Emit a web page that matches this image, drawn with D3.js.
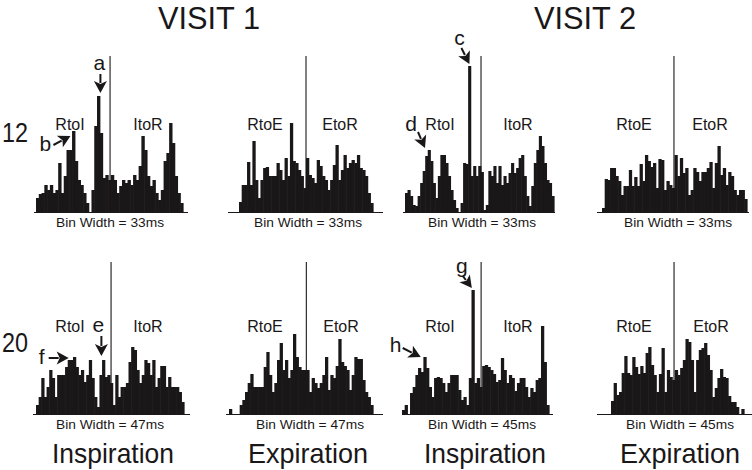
<!DOCTYPE html>
<html>
<head>
<meta charset="utf-8">
<script src="https://cdn.jsdelivr.net/npm/d3@7"></script>
<style>
    body { margin: 0; background: #fff; }
    svg { display: block; font-family: "Liberation Sans", Arial, sans-serif; }
</style>
</head>
<body>
<div id="chart"></div>
<script>
// spike counts per bin (left to right)
const v1Insp33 = [14, 18, 19, 27, 22, 27, 19, 22, 49, 19, 36, 62, 62, 81, 51, 32, 27, 19, 9, 0,
    22, 86, 116, 79, 34, 37, 32, 37, 32, 19, 26, 32, 29, 32, 27, 37, 32, 46, 76, 62,
    36, 26, 32, 19, 12, 22, 51, 59, 89, 69, 36, 19, 9];
const v1Exp33 = [10, 27, 27, 50, 27, 71, 32, 14, 32, 44, 45, 36, 36, 36, 49, 42, 32, 54, 36, 89,
    51, 49, 42, 36, 24, 54, 37, 34, 29, 52, 46, 36, 32, 22, 32, 47, 67, 32, 42, 57,
    44, 49, 52, 49, 57, 44, 42, 36, 19, 9];
const v2Insp33 = [19, 22, 16, 7, 6, 16, 29, 41, 56, 62, 51, 29, 14, 36, 57, 57, 49, 36, 22, 12,
    4, 0, 9, 49, 48, 146, 36, 46, 36, 46, 40, 2, 7, 41, 36, 46, 29, 46, 27, 36,
    29, 39, 49, 39, 44, 54, 57, 36, 16, 6, 26, 49, 62, 76, 66, 49, 32, 29, 16];
const v2Exp33 = [4, 33, 32, 44, 44, 36, 31, 17, 26, 26, 42, 26, 35, 26, 48, 31, 57, 51, 45, 49,
    24, 53, 52, 22, 31, 27, 24, 57, 36, 54, 39, 44, 17, 22, 44, 40, 31, 40, 40, 44,
    50, 24, 49, 66, 37, 44, 27, 40, 36, 22, 17, 22, 22, 13];
const v1Insp47 = [9, 17, 36, 17, 27, 44, 36, 17, 39, 39, 39, 47, 54, 54, 57, 47, 39, 44, 32, 39,
    54, 36, 17, 7, 39, 54, 37, 39, 31, 9, 39, 17, 27, 27, 31, 52, 67, 64, 44, 31,
    39, 54, 51, 39, 54, 27, 36, 48, 48, 27, 37, 27, 27, 27, 22, 12];
const v1Exp47 = [5, 0, 0, 0, 9, 14, 22, 31, 40, 27, 27, 27, 27, 47, 62, 39, 22, 31, 54, 71,
    44, 54, 36, 44, 80, 57, 47, 44, 44, 44, 22, 36, 31, 26, 31, 39, 57, 24, 39, 36,
    48, 75, 52, 48, 44, 24, 39, 57, 55, 55, 34, 22, 17, 9];
const v2Insp45 = [4, 9, 0, 21, 27, 39, 46, 42, 57, 46, 27, 17, 36, 37, 36, 31, 22, 31, 39, 39,
    39, 24, 14, 17, 9, 36, 124, 31, 36, 27, 48, 49, 47, 44, 40, 32, 34, 56, 44, 31,
    39, 36, 23, 31, 36, 36, 27, 17, 26, 22, 34, 36, 88, 52, 9];
const v2Exp45 = [13, 31, 19, 22, 41, 58, 41, 39, 57, 47, 40, 48, 41, 61, 67, 49, 39, 22, 40, 66,
    22, 44, 37, 34, 44, 39, 46, 54, 75, 72, 54, 22, 54, 64, 66, 71, 59, 44, 17, 26,
    36, 45, 37, 36, 18, 12, 12, 7, 0, 5];

// phase boundary (vertical line), in bins from the left edge
const markerBins = [26.7, 25.0, 30.1, 26.8, 28.4, 29.0, 29.6, 23.7];

const visitTitles = ['VISIT 1', 'VISIT 2'];
const rowLabels = ['12', '20'];
const phaseLabels = ['Inspiration', 'Expiration', 'Inspiration', 'Expiration'];
const binWidthLabels = ['33ms', '33ms', '33ms', '33ms', '47ms', '47ms', '45ms', '45ms'];
const segmentLabels = [['RtoI', 'ItoR'], ['RtoE', 'EtoR'], ['RtoI', 'ItoR'], ['RtoE', 'EtoR']];

// letter annotations: panel index, bin the arrow points at
const annotations = [
    { letter: 'a', panel: 0, bin: 22 },
    { letter: 'b', panel: 0, bin: 13 },
    { letter: 'c', panel: 2, bin: 25 },
    { letter: 'd', panel: 2, bin: 9 },
    { letter: 'e', panel: 4, bin: 25 },
    { letter: 'f', panel: 4, bin: 13 },
    { letter: 'g', panel: 6, bin: 26 },
    { letter: 'h', panel: 6, bin: 8 }
];

const seriesList = [v1Insp33, v1Exp33, v2Insp33, v2Exp33, v1Insp47, v1Exp47, v2Insp45, v2Exp45];

// ---- layout ----
const W = 752, H = 470;
const ink = '#1a1718';
const rows = [
    { base: 212, lineTop: 56, segY: 130, binY: 227, labelY: 142 },
    { base: 414, lineTop: 262, segY: 332, binY: 429, labelY: 352 }
];
const layout = [
    { bars: [36, 183], axis: [34, 188], seg: [70, 148], binX: 110 },
    { bars: [239, 373], axis: [228, 383], seg: [265, 340], binX: 308 },
    { bars: [405, 554], axis: [403, 555], seg: [440, 518], binX: 482 },
    { bars: [602, 747], axis: [597, 749], seg: [634, 710], binX: 678 },
    { bars: [36, 184], axis: [33, 190], seg: [70, 148], binX: 110 },
    { bars: [229, 373], axis: [226, 383], seg: [265, 341], binX: 310 },
    { bars: [402, 549], axis: [402, 553], seg: [440, 518], binX: 482 },
    { bars: [611, 744], axis: [597, 752], seg: [634, 711], binX: 680 }
];
// arrow geometry relative to the target bar top
const arrowGeo = {
    a: { tip: [2, -3], tail: [0, -19], text: [-1, -23] },
    b: { tip: [-3, 5], tail: [-17, 9], text: [-25, 15] },
    c: { tip: [0, -2], tail: [-8, -16], text: [-10, -19] },
    d: { tip: [-4, -2], tail: [-7, -16], text: [-14, -17] },
    e: { tip: [-2, -4], tail: [0, -20], text: [-3, -24] },
    f: { tip: [-3, -2], tail: [-20, 0], text: [-27, 6] },
    g: { tip: [-1, -2], tail: [-9, -12], text: [-10, -15] },
    h: { tip: [-4, 0], tail: [-18, -9], text: [-25, -5] }
};

const svg = d3.select('#chart').append('svg')
    .attr('width', W)
    .attr('height', H);

const scales = [];

seriesList.forEach((counts, p) => {
    const row = rows[p < 4 ? 0 : 1];
    const lay = layout[p];
    const col = p % 4;

    const x = d3.scaleLinear()
        .domain([0, counts.length])
        .range(lay.bars);
    const y = d3.scaleLinear()
        .domain([0, 150])
        .range([row.base, row.base - 150]);
    scales.push({ x, y });

    const g = svg.append('g').attr('class', 'panel');

    g.selectAll('rect.bar')
        .data(counts)
        .join('rect')
        .attr('class', 'bar')
        .attr('x', (d, i) => x(i))
        .attr('width', (d, i) => x(i + 1) - x(i) + 0.6)
        .attr('y', d => y(d))
        .attr('height', d => y(0) - y(d))
        .attr('fill', ink);

    // baseline
    g.append('line')
        .attr('x1', lay.axis[0]).attr('x2', lay.axis[1])
        .attr('y1', row.base + 0.5).attr('y2', row.base + 0.5)
        .attr('stroke', ink).attr('stroke-width', 1.2);

    // phase boundary
    g.append('line')
        .attr('x1', x(markerBins[p])).attr('x2', x(markerBins[p]))
        .attr('y1', row.lineTop).attr('y2', row.base)
        .attr('stroke', ink).attr('stroke-width', 1.1);

    segmentLabels[col].forEach((s, k) => {
        g.append('text')
            .attr('x', lay.seg[k])
            .attr('y', row.segY)
            .attr('text-anchor', 'middle')
            .style('font-size', '16px')
            .attr('fill', ink)
            .text(s);
    });

    g.append('text')
        .attr('x', lay.binX)
        .attr('y', row.binY)
        .attr('text-anchor', 'middle')
        .attr('textLength', 108)
        .attr('lengthAdjust', 'spacingAndGlyphs')
        .style('font-size', '13.5px')
        .attr('fill', ink)
        .text('Bin Width = ' + binWidthLabels[p]);
});

// annotations with arrows
annotations.forEach(a => {
    const { x, y } = scales[a.panel];
    const counts = seriesList[a.panel];
    const geo = arrowGeo[a.letter];
    const bx = (x(a.bin) + x(a.bin + 1)) / 2;
    const by = y(counts[a.bin]);
    const tip = [bx + geo.tip[0], by + geo.tip[1]];
    const tail = [tip[0] + geo.tail[0], tip[1] + geo.tail[1]];

    const dx = tip[0] - tail[0], dy = tip[1] - tail[1];
    const len = Math.hypot(dx, dy);
    const ux = dx / len, uy = dy / len;
    const headL = 12, headW = 6.5;
    const baseX = tip[0] - ux * headL, baseY = tip[1] - uy * headL;

    svg.append('line')
        .attr('x1', tail[0]).attr('y1', tail[1])
        .attr('x2', baseX + ux * 2).attr('y2', baseY + uy * 2)
        .attr('stroke', ink).attr('stroke-width', 2);

    svg.append('path')
        .attr('d', `M${tip[0]},${tip[1]}L${baseX - uy * headW},${baseY + ux * headW}` +
            `L${baseX + ux * 3},${baseY + uy * 3}L${baseX + uy * headW},${baseY - ux * headW}Z`)
        .attr('fill', ink);

    svg.append('text')
        .attr('x', tip[0] + geo.text[0])
        .attr('y', tip[1] + geo.text[1])
        .attr('text-anchor', 'middle')
        .style('font-size', '21px')
        .attr('fill', ink)
        .text(a.letter);
});

// headings
const titleX = [209, 585];
visitTitles.forEach((t, i) => {
    svg.append('text')
        .attr('x', titleX[i])
        .attr('y', 28.5)
        .attr('text-anchor', 'middle')
        .attr('textLength', 102)
        .attr('lengthAdjust', 'spacingAndGlyphs')
        .style('font-size', '31px')
        .attr('fill', ink)
        .text(t);
});

rowLabels.forEach((t, i) => {
    svg.append('text')
        .attr('x', 2)
        .attr('y', rows[i].labelY)
        .attr('textLength', 26)
        .attr('lengthAdjust', 'spacingAndGlyphs')
        .style('font-size', '28px')
        .attr('fill', ink)
        .text(t);
});

const phaseX = [113, 308, 485, 680];
phaseLabels.forEach((t, i) => {
    svg.append('text')
        .attr('x', phaseX[i])
        .attr('y', 463)
        .attr('text-anchor', 'middle')
        .attr('textLength', t === 'Inspiration' ? 122 : 120)
        .attr('lengthAdjust', 'spacingAndGlyphs')
        .style('font-size', '28px')
        .attr('fill', ink)
        .text(t);
});
</script>
</body>
</html>
